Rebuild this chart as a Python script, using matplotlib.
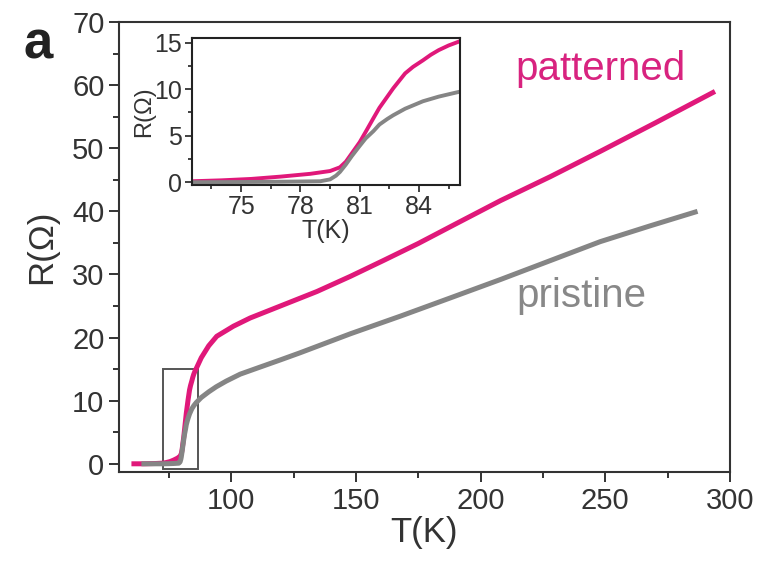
import matplotlib
matplotlib.use("Agg")
import matplotlib.pyplot as plt
from matplotlib.patches import Rectangle
from matplotlib.ticker import MultipleLocator

plt.rcParams["font.family"] = ["Liberation Sans", "DejaVu Sans"]

# R(T)
t_pat = [60, 65, 70, 72.5, 74, 75.5, 77, 78.5, 79.5, 80, 80.3, 80.6, 81, 81.3, 81.7, 82, 82.4,
         82.7, 83, 83.3, 83.7, 84.2, 84.6, 85, 85.5, 86,
         88, 91, 94.2, 100.9, 107.6, 121, 134.4, 147.8, 161, 175, 190, 208, 228, 248, 270, 294]
r_pat = [0, 0, 0.05, 0.1, 0.2, 0.35, 0.6, 0.9, 1.2, 1.6, 2.2, 3.1, 4.3, 5.4, 6.9, 8.0, 9.2,
         10.1, 10.9, 11.7, 12.4, 13.1, 13.7, 14.2, 14.7, 15.1,
         16.8, 18.7, 20.2, 21.8, 23.1, 25.2, 27.3, 29.7, 32.2, 34.9, 38.0, 41.7, 45.5, 49.5, 54.0, 59.0]

t_pri = [64, 70, 72.5, 75, 77, 79, 79.5, 79.8, 80, 80.3, 80.6, 81, 81.3, 81.7, 82, 82.4, 82.7,
         83.3, 84.2, 85, 86,
         88, 91, 94, 98, 103.6, 110, 120, 127.7, 147.8, 167.9, 188, 208, 228, 248, 268, 287]
r_pri = [0, 0, 0, 0.02, 0.05, 0.1, 0.3, 0.7, 1.1, 1.9, 2.8, 3.9, 4.7, 5.5, 6.2, 6.8, 7.2,
         7.9, 8.7, 9.2, 9.7,
         10.5, 11.4, 12.2, 13.1, 14.2, 15.1, 16.5, 17.6, 20.6, 23.4, 26.3, 29.2, 32.2, 35.2, 37.7, 40.0]

pink = "#e0187a"
grey = "#858585"

fig = plt.figure(figsize=(7.7, 5.65), dpi=100)
ax = fig.add_axes([0.1545, 0.1646, 0.7935, 0.7965])

ax.plot(t_pat, r_pat, color=pink, lw=3.6, solid_capstyle="butt")
ax.plot(t_pri, r_pri, color=grey, lw=3.6, solid_capstyle="butt")
ax.add_patch(Rectangle((72.5, -0.9), 14, 15.9, fill=False, ec="#555555", lw=1.4))

ax.set_xlim(55, 300)
ax.set_ylim(-1.3, 70)
ax.set_xticks([100, 150, 200, 250, 300])
ax.xaxis.set_minor_locator(MultipleLocator(25))
ax.set_yticks(range(0, 71, 10))
ax.yaxis.set_minor_locator(MultipleLocator(5))
ax.tick_params(which="major", direction="out", length=7, width=1.4, labelsize=21, colors="#333333")
ax.tick_params(which="minor", direction="out", length=4.5, width=1.4, colors="#333333")
for s in ax.spines.values():
    s.set_linewidth(1.5)
    s.set_color("#333333")
ax.set_xlabel("T(K)", fontsize=25, color="#333333", labelpad=1)
ax.set_ylabel("R(Ω)", fontsize=25, color="#333333", labelpad=10)

ax.text(0.648, 0.871, "patterned", transform=ax.transAxes, color="#d8237f",
        fontsize=29, va="baseline")
ax.text(0.651, 0.367, "pristine", transform=ax.transAxes, color="#888888",
        fontsize=29, va="baseline")
fig.text(0.030, 0.897, "a", fontsize=38, fontweight="bold", color="#222222", va="baseline")

# inset
ins = fig.add_axes([0.249, 0.6726, 0.349, 0.2601])
ins.plot(t_pat, r_pat, color=pink, lw=2.8)
ins.plot(t_pri, r_pri, color=grey, lw=2.8)
ins.set_xlim(72.5, 86.1)
ins.set_ylim(-0.3, 15.5)
ins.set_xticks([75, 78, 81, 84])
ins.xaxis.set_minor_locator(MultipleLocator(1.5))
ins.set_yticks([0, 5, 10, 15])
ins.yaxis.set_minor_locator(MultipleLocator(2.5))
ins.tick_params(which="major", direction="out", length=5, width=1.3, labelsize=18,
                colors="#333333", pad=2)
ins.tick_params(which="minor", direction="out", length=3, width=1.3, colors="#333333")
for s in ins.spines.values():
    s.set_linewidth(1.5)
    s.set_color("#222222")
ins.set_xlabel("T(K)", fontsize=18, color="#333333", labelpad=0)
ins.set_ylabel("R(Ω)", fontsize=17, color="#333333", labelpad=-1)

fig.savefig("out.png", dpi=100)
